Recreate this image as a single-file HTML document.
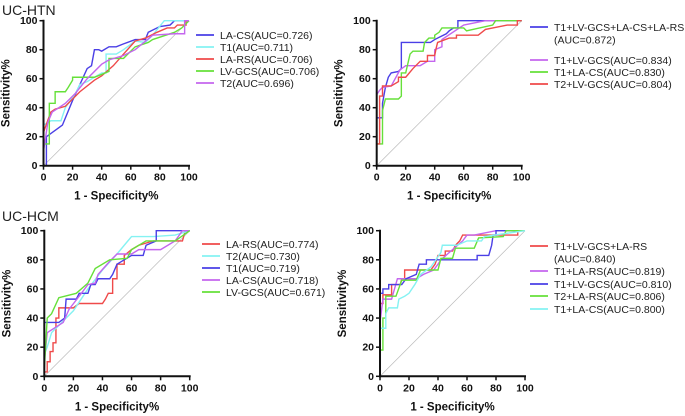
<!DOCTYPE html>
<html><head><meta charset="utf-8"><style>
body{margin:0;background:#fff;width:685px;height:416px;overflow:hidden;font-family:"Liberation Sans",Arial,sans-serif}
svg{display:block}
</style></head><body>
<svg id="c" width="685" height="416"></svg>
<script>
const panelTitles=["UC-HTN","","UC-HCM",""];
const xTicks=[0,20,40,60,80,100];
const yTicks=[0,20,40,60,80,100];
const p1Names=["LA-CS(AUC=0.726)","T1(AUC=0.711)","LA-RS(AUC=0.706)","LV-GCS(AUC=0.706)","T2(AUC=0.696)"];
const p1LaCs=[[0,0],[2,0],[2,20],[13,28],[20,45],[30,67],[33,69],[35,80],[38,80],[40,79],[45,82],[50,82],[55,84],[63,87],[70,87],[72,92],[80,96],[87,97],[90,100],[100,100]];
const p1T1=[[0,0],[0,28],[5,31],[12,31],[15,40],[22,50],[25,56],[30,58],[40,64],[43,64],[43,77],[50,77],[55,80],[63,86],[70,85],[75,90],[83,100],[100,100]];
const p1LaRs=[[0,0],[0,23],[5,37],[8,39],[15,41],[25,51],[35,59],[40,62],[48,69],[55,77],[63,86],[70,88],[78,92],[85,95],[90,95],[92,97],[98,97],[98,100],[100,100]];
const p1LvGcs=[[0,0],[0,15],[4,15],[4,43],[8,43],[8,51],[15,51],[17,54],[20,59],[20,61],[35,61],[40,63],[45,65],[45,74],[55,74],[58,77],[63,82],[72,85],[75,87],[90,92],[95,95],[98,98],[100,100]];
const p1T2=[[0,0],[0,10],[3,30],[6,37],[15,43],[22,50],[30,60],[40,70],[45,73],[55,76],[63,80],[75,90],[90,91],[97,91],[97,100],[100,100]];
const p2Names=[["T1+LV-GCS+LA-CS+LA-RS","(AUC=0.872)"],["T1+LV-GCS(AUC=0.834)"],["T1+LA-CS(AUC=0.830)"],["T2+LV-GCS(AUC=0.804)"]];
const p2A=[[0,0],[0,33],[4,33],[4,43],[6,54],[8,61],[10,64],[15,65],[17,67],[17,85],[37,85],[40,87],[44,89],[48,91],[50,93],[53,95],[56,95],[56,100],[100,100]];
const p2B=[[0,0],[0,49],[2,52],[4,54],[10,55],[16,66],[20,69],[30,69],[35,72],[40,72],[40,80],[45,82],[45,87],[60,97],[75,100],[100,100]];
const p2C=[[0,0],[0,15],[4,15],[4,38],[6,46],[15,46],[17,48],[17,64],[20,64],[23,77],[25,79],[32,79],[33,85],[36,88],[40,88],[40,90],[43,92],[45,95],[60,95],[62,93],[80,97],[82,100],[100,100]];
const p2D=[[0,0],[0,15],[2,15],[2,48],[4,48],[4,55],[10,55],[15,58],[15,61],[20,61],[25,67],[30,72],[35,72],[35,76],[40,76],[41,81],[42,85],[50,88],[55,88],[55,90],[70,90],[75,94],[90,97],[97,97],[97,100],[100,100]];
const p3Names=["LA-RS(AUC=0.774)","T2(AUC=0.730)","T1(AUC=0.719)","LA-CS(AUC=0.718)","LV-GCS(AUC=0.671)"];
const p3LaRs=[[0,0],[0,3],[2,3],[2,10],[4,10],[4,17],[6,17],[6,23],[8,23],[8,40],[10,40],[10,47],[20,47],[24,50],[40,50],[42,53],[44,57],[47,57],[47,67],[50,67],[50,77],[55,77],[55,83],[60,87],[65,90],[75,93],[95,93],[97,100],[100,100]];
const p3T2=[[0,0],[0,15],[2,20],[5,30],[10,35],[20,45],[30,60],[40,73],[50,84],[60,96],[75,96],[90,97],[100,100]];
const p3T1=[[0,0],[0,37],[10,37],[14,40],[15,53],[22,53],[24,57],[30,57],[32,63],[35,63],[37,67],[45,67],[47,70],[50,77],[55,80],[60,83],[68,83],[70,90],[77,93],[77,100],[100,100]];
const p3LaCs=[[0,0],[0,10],[2,30],[13,37],[17,46],[24,55],[30,63],[35,64],[37,70],[45,79],[50,84],[60,84],[65,87],[80,87],[90,93],[95,100],[100,100]];
const p3LvGcs=[[0,0],[0,5],[2,40],[5,43],[10,54],[22,57],[30,64],[35,74],[45,80],[57,81],[60,87],[70,93],[90,93],[100,100]];
const p4Names=[["T1+LV-GCS+LA-RS","(AUC=0.840)"],["T1+LA-RS(AUC=0.819)"],["T1+LV-GCS(AUC=0.810)"],["T2+LA-RS(AUC=0.806)"],["T1+LA-CS(AUC=0.800)"]];
const p4A=[[0,0],[0,50],[2,50],[2,56],[8,56],[8,63],[14,63],[15,67],[17,67],[17,73],[35,73],[38,77],[40,83],[45,83],[45,86],[50,86],[52,90],[55,93],[57,97],[95,97],[95,100],[100,100]];
const p4B=[[0,0],[0,37],[2,53],[8,53],[10,60],[12,67],[25,67],[30,70],[37,73],[40,77],[42,80],[50,87],[57,93],[60,97],[65,97],[80,100],[100,100]];
const p4C=[[0,0],[0,57],[2,57],[2,60],[6,60],[6,63],[15,63],[18,67],[25,70],[27,77],[32,77],[32,80],[67,80],[67,83],[75,83],[77,90],[78,97],[80,97],[80,100],[100,100]];
const p4D=[[0,0],[0,18],[2,18],[2,40],[4,40],[4,55],[11,55],[15,66],[25,66],[28,73],[40,73],[42,81],[50,81],[52,88],[65,88],[68,95],[85,96],[87,100],[100,100]];
const p4E=[[0,0],[0,33],[4,33],[4,43],[6,47],[12,47],[13,53],[17,55],[20,57],[24,63],[28,70],[35,75],[42,85],[43,90],[53,90],[60,93],[70,93],[72,96],[100,100]];

const BL="#4a3fe6",CY="#85f2f2",RD="#ef4a4a",GR="#66e03a",VI="#c466ee";
const svg=document.getElementById('c');
const NS="http://www.w3.org/2000/svg";
function mk(t,a,p){const e=document.createElementNS(NS,t);for(const k in a)e.setAttribute(k,a[k]);(p||svg).appendChild(e);return e;}
const panels=[
 {x0:43.5,x1:189,y0:165.7,y1:20.7,series:[p1LaCs,p1T1,p1LaRs,p1LvGcs,p1T2],cols:[BL,CY,RD,GR,VI],names:p1Names,lx:196,ly:[35,47,59,71,83],title:"UC-HTN",ty:15},
 {x0:376.7,x1:521.7,y0:165.7,y1:20.7,series:[p2A,p2B,p2C,p2D],cols:[BL,VI,GR,RD],names:p2Names,lx:530,ly:[27,60,72,84]},
 {x0:44.3,x1:189.7,y0:376.3,y1:230.7,series:[p3LaRs,p3T2,p3T1,p3LaCs,p3LvGcs],cols:[RD,CY,BL,VI,GR],names:p3Names,lx:202,ly:[244,256,268,280,292],title:"UC-HCM",ty:221},
 {x0:380,x1:525,y0:376.3,y1:230.7,series:[p4A,p4B,p4C,p4D,p4E],cols:[RD,VI,BL,GR,CY],names:p4Names,lx:530,ly:[246,271,284,296,309]}
];
panels.forEach((P,pi)=>{
 const g=mk('g',{});
 
 
 const sx=v=>P.x0+(P.x1-P.x0)*v/100, sy=v=>P.y0+(P.y1-P.y0)*v/100;
 if(P.title){const t=mk('text',{x:2,y:P.ty,'font-size':14,fill:'#222'},g);t.textContent=P.title;}
 mk('line',{x1:sx(0),y1:sy(0),x2:sx(100),y2:sy(100),stroke:'#bbb','stroke-width':0.7},g);
 P.series.forEach((s,i)=>{
  const pl=mk('polyline',{points:s.map(p=>sx(p[0])+','+sy(p[1])).join(' '),fill:'none',stroke:P.cols[i],'stroke-width':1.4},g);
  
  
 });
 mk('line',{x1:sx(0),y1:sy(0)+1,x2:sx(0),y2:sy(100)-1,stroke:'#111','stroke-width':2},g);
 mk('line',{x1:sx(0)-1,y1:sy(0),x2:sx(100)+1,y2:sy(0),stroke:'#111','stroke-width':2},g);
 xTicks.forEach(v=>{mk('line',{x1:sx(v),y1:sy(0),x2:sx(v),y2:sy(0)+4,stroke:'#111','stroke-width':1.5},g);
  const t=mk('text',{x:sx(v),y:sy(0)+15,'font-size':10.5,'font-weight':'bold','text-anchor':'middle',fill:'#111'},g);t.textContent=v;
  });
 yTicks.forEach(v=>{mk('line',{x1:sx(0)-4,y1:sy(v),x2:sx(0),y2:sy(v),stroke:'#111','stroke-width':1.5},g);
  const t=mk('text',{x:sx(0)-6,y:sy(v)+3.5,'font-size':10.5,'font-weight':'bold','text-anchor':'end',fill:'#111'},g);t.textContent=v;
  });
 const xl=mk('text',{x:(P.x0+P.x1)/2,y:P.y0+34,'font-size':11.5,'font-weight':'bold','text-anchor':'middle',fill:'#111'},g);xl.textContent='1 - Specificity%';
 
 const yx=P.x0-34,yy=(P.y0+P.y1)/2;
 const yl=mk('text',{x:yx,y:yy,'font-size':11.5,'font-weight':'bold','text-anchor':'middle',fill:'#111',transform:`rotate(-90 ${yx} ${yy})`},g);yl.textContent='Sensitivity%';
 
 P.names.forEach((n,i)=>{
  const lg=mk('g',{},g);
  
  
  const y=P.ly[i];
  mk('line',{x1:P.lx,y1:y,x2:P.lx+18,y2:y,stroke:P.cols[i],'stroke-width':1.8},lg);
  const lines=Array.isArray(n)?n:[n];
  lines.forEach((s,j)=>{const t=mk('text',{x:P.lx+24,y:y+4+j*12.5,'font-size':10.5,fill:'#222'},lg);t.textContent=s;});
 });
});
</script>
</body></html>
